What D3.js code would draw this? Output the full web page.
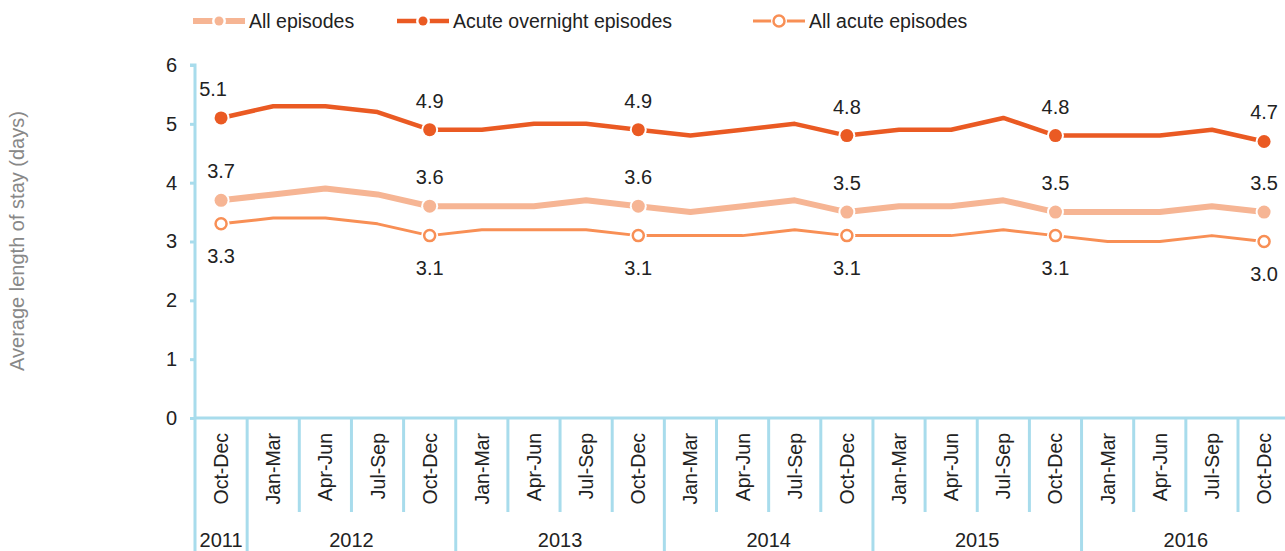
<!DOCTYPE html>
<html><head><meta charset="utf-8">
<script src="https://cdn.jsdelivr.net/npm/d3@7"></script>
<style>
body{margin:0;background:#fff;}
svg{display:block;font-family:"Liberation Sans",Arial,sans-serif;}
</style></head>
<body><svg id="c" width="1285" height="551"></svg>
<script>
const quarters = ["Oct-Dec","Jan-Mar","Apr-Jun","Jul-Sep","Oct-Dec","Jan-Mar","Apr-Jun","Jul-Sep","Oct-Dec","Jan-Mar","Apr-Jun","Jul-Sep","Oct-Dec","Jan-Mar","Apr-Jun","Jul-Sep","Oct-Dec","Jan-Mar","Apr-Jun","Jul-Sep","Oct-Dec"];
const years = [{label:"2011",start:0,count:1},{label:"2012",start:1,count:4},{label:"2013",start:5,count:4},{label:"2014",start:9,count:4},{label:"2015",start:13,count:4},{label:"2016",start:17,count:4}];
const allEpisodes = [3.7,3.8,3.9,3.8,3.6,3.6,3.6,3.7,3.6,3.5,3.6,3.7,3.5,3.6,3.6,3.7,3.5,3.5,3.5,3.6,3.5];
const acuteOvernight = [5.1,5.3,5.3,5.2,4.9,4.9,5.0,5.0,4.9,4.8,4.9,5.0,4.8,4.9,4.9,5.1,4.8,4.8,4.8,4.9,4.7];
const allAcute = [3.3,3.4,3.4,3.3,3.1,3.2,3.2,3.2,3.1,3.1,3.1,3.2,3.1,3.1,3.1,3.2,3.1,3.0,3.0,3.1,3.0];
const yTicks = [0,1,2,3,4,5,6];
const markerIdx = [0,4,8,12,16,20];

const svg = d3.select("#c");
const axisCol = "#a8dcec";
const x = d3.scaleBand().domain(d3.range(quarters.length)).range([195, 195 + 52.15*21]).padding(0);
const y = d3.scaleLinear().domain([0,6]).range([418, 65]);
const cx = i => x(i) + x.bandwidth()/2;

// y axis
const ya = svg.append("g").attr("transform","translate(195,0)")
  .call(d3.axisLeft(y).tickValues(yTicks).tickFormat(d3.format("d")).tickSize(5).tickPadding(13));
ya.select(".domain").attr("stroke",axisCol).attr("stroke-width",3).attr("d","M-5,65H0V551");
ya.selectAll(".tick line").attr("stroke",axisCol).attr("stroke-width",3);
ya.selectAll(".tick text").attr("font-size",20).attr("fill","#222").attr("font-family","Liberation Sans, Arial, sans-serif");

// x axis baseline
svg.append("line").attr("x1",195).attr("x2",1285).attr("y1",418).attr("y2",418).attr("stroke",axisCol).attr("stroke-width",3);

// quarter separators
const yearStarts = new Set(years.map(d=>d.start));
d3.range(1, quarters.length+1).forEach(i=>{
  const xx = x(0) + i*x.bandwidth();
  const isYear = yearStarts.has(i);
  svg.append("line").attr("x1",xx).attr("x2",xx).attr("y1",418).attr("y2",isYear?551:512)
    .attr("stroke",axisCol).attr("stroke-width",3);
});

// quarter labels
svg.append("g").selectAll("text").data(quarters).join("text")
  .attr("transform",(d,i)=>`translate(${cx(i)+7},433) rotate(-90)`)
  .attr("text-anchor","end").attr("font-size",19.5).attr("fill","#222").text(d=>d);

// year labels
svg.append("g").selectAll("text").data(years).join("text")
  .attr("x",d=> x(d.start) + d.count*x.bandwidth()/2)
  .attr("y",547).attr("text-anchor","middle").attr("font-size",20).attr("fill","#222").text(d=>d.label);

// y title
svg.append("text").attr("transform","translate(24,241) rotate(-90)").attr("text-anchor","middle")
  .attr("font-size",20).attr("fill","#888").text("Average length of stay (days)");

const series = [
  {name:"All episodes", data:allEpisodes, color:"#f6b594", width:6, r:6.5, fill:"#f6b594", labelPos:"above"},
  {name:"Acute overnight episodes", data:acuteOvernight, color:"#ea5a23", width:4.5, r:6.5, fill:"#ea5a23", labelPos:"above"},
  {name:"All acute episodes", data:allAcute, color:"#f88f55", width:3, r:6.5, fill:"#fff", labelPos:"below"}
];

const line = d3.line().x((d,i)=>cx(i)).y(d=>y(d));
series.forEach(s=>{
  svg.append("path").datum(s.data).attr("d",line).attr("fill","none")
    .attr("stroke",s.color).attr("stroke-width",s.width).attr("stroke-linejoin","round");
});
series.forEach(s=>{
  const g = svg.append("g");
  markerIdx.forEach(i=>{
    if (s.fill === "#fff") {
      g.append("circle").attr("cx",cx(i)).attr("cy",y(s.data[i])).attr("r",s.r+2).attr("fill","#fff");
      g.append("circle").attr("cx",cx(i)).attr("cy",y(s.data[i])).attr("r",s.r-1).attr("fill","#fff").attr("stroke",s.color).attr("stroke-width",2.5);
    } else {
      g.append("circle").attr("cx",cx(i)).attr("cy",y(s.data[i])).attr("r",s.r+2).attr("fill","#fff");
      g.append("circle").attr("cx",cx(i)).attr("cy",y(s.data[i])).attr("r",s.r).attr("fill",s.fill);
    }
    g.append("text").attr("x",cx(i) - (i===0 && s.labelPos==="above" && s.data[i]>5 ? 8 : 0))
      .attr("y", y(s.data[i]) + (s.labelPos==="above" ? -22 : 39))
      .attr("text-anchor","middle").attr("font-size",20).attr("fill","#222").text(s.data[i].toFixed(1));
  });
});

// legend
const legendX = [193, 397, 753];
series.forEach((s,k)=>{
  const lx = legendX[k], ly = 21;
  const g = svg.append("g");
  g.append("line").attr("x1",lx).attr("x2",lx+52).attr("y1",ly).attr("y2",ly).attr("stroke",s.color).attr("stroke-width",s.width);
  g.append("circle").attr("cx",lx+26).attr("cy",ly).attr("r",s.fill==="#fff"?8:7).attr("fill","#fff");
  if (s.fill==="#fff") g.append("circle").attr("cx",lx+26).attr("cy",ly).attr("r",5.5).attr("fill","#fff").attr("stroke",s.color).attr("stroke-width",2.5);
  else g.append("circle").attr("cx",lx+26).attr("cy",ly).attr("r",4.5).attr("fill",s.fill);
  g.append("text").attr("x",lx+56).attr("y",ly+7).attr("font-size",19.5).attr("fill","#222").text(s.name);
});
</script></body></html>
